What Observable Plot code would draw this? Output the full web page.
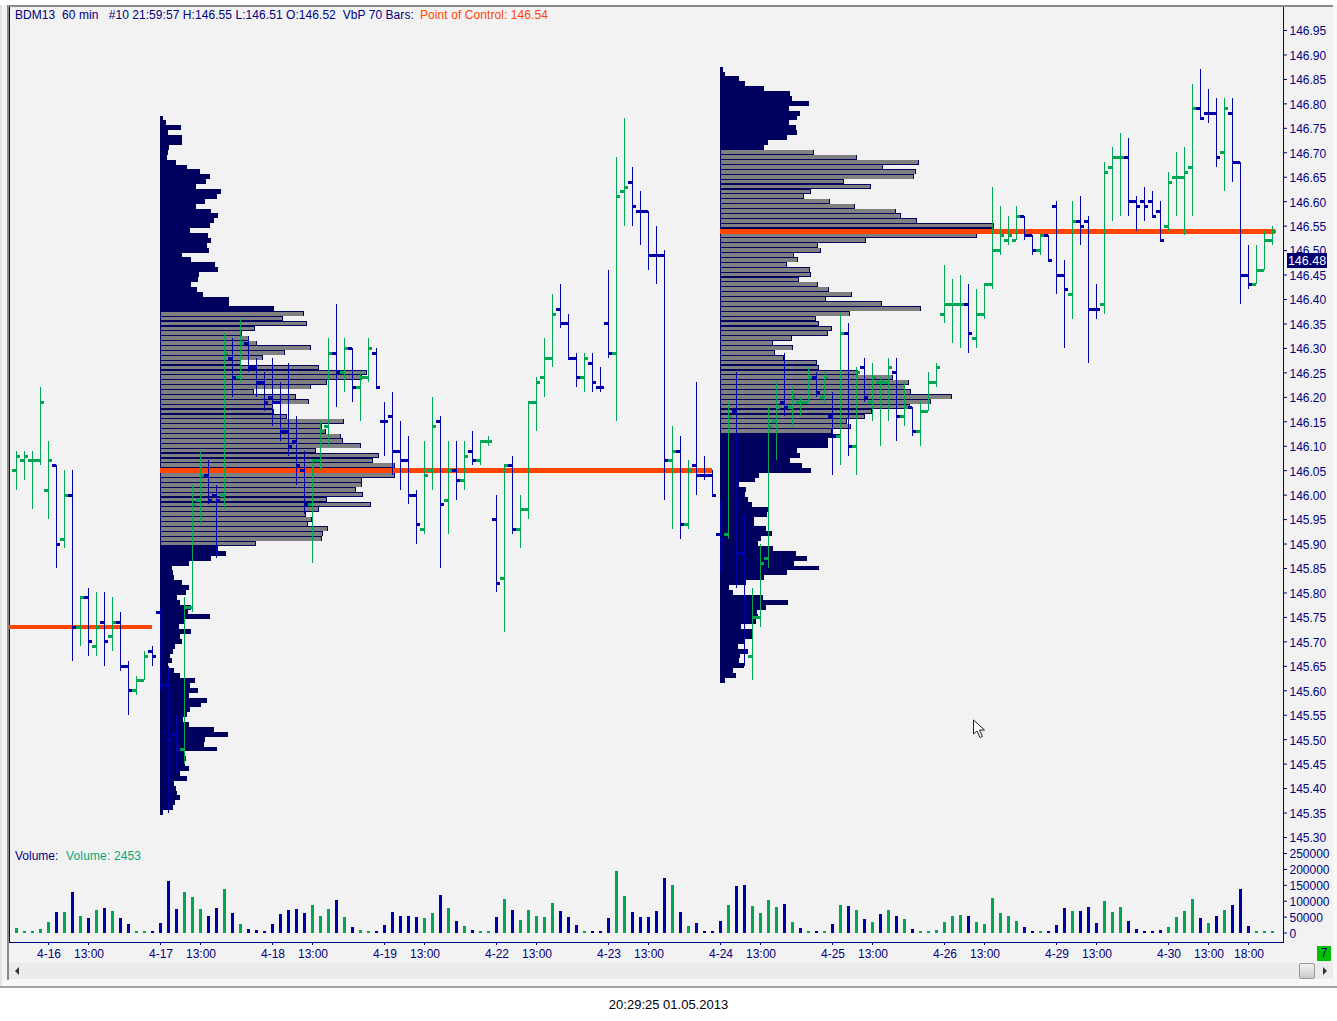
<!DOCTYPE html>
<html><head><meta charset="utf-8">
<script src="https://cdn.jsdelivr.net/npm/d3@7"></script>
<script src="https://cdn.jsdelivr.net/npm/@observablehq/plot@0.6"></script>
<style>
html,body{margin:0;padding:0;background:#fff;}
#page{position:relative;width:1337px;height:1021px;overflow:hidden;font:12px "Liberation Sans",Arial,sans-serif;}
#page>div,#page>svg{position:absolute;}
.lab{white-space:pre;line-height:14px;color:#000080;}
</style></head><body><div id="page">
<div style="left:0;top:5px;width:1337px;height:981px;background:#f2f2f2;border-bottom:2px solid #a3a3a3;"></div>
<div style="left:9px;top:963px;width:1324px;height:16px;background:#ebebeb;"></div>
<div style="left:0;top:979px;width:1337px;height:7px;background:#f8f8f8;"></div>
<div style="left:7px;top:5px;width:1330px;height:2px;background:#8a8a8a;"></div>
<div style="left:7px;top:5px;width:2px;height:975px;background:#8a8a8a;"></div>
<div style="left:0;top:5px;width:2px;height:981px;background:#e4e4e4;"></div>
<div style="left:1333px;top:5px;width:4px;height:981px;background:#f8f8f8;"></div>
<div id="price" style="left:0;top:0;"></div>
<div id="volume" style="left:0;top:845px;"></div>
<div class="lab" style="left:15px;top:8px;letter-spacing:0.06px;">BDM13  60 min   #10 21:59:57 H:146.55 L:146.51 O:146.52  VbP 70 Bars:</div>
<div class="lab" style="left:420px;top:8px;color:#ff4500;letter-spacing:0.08px;">Point of Control: 146.54</div>
<div class="lab" style="left:15px;top:849px;">Volume:</div>
<div class="lab" style="left:66px;top:849px;color:#00a878;letter-spacing:0.15px;">Volume: 2453</div>
<div class="lab" style="left:1287px;top:253px;width:40px;height:15px;background:#000070;color:#fff;text-align:center;line-height:16px;font-size:12.5px;">146.48</div>
<div class="lab" style="left:1317px;top:946px;width:14px;height:15px;background:#00c000;color:#000080;text-align:center;line-height:15px;">7</div>
<div style="left:1299px;top:963px;width:14px;height:14px;background:linear-gradient(#f4f4f4,#c8c8c8);border:1px solid #999;border-radius:2px;"></div>
<div style="left:15px;top:967px;width:0;height:0;border:4px solid transparent;border-left-width:0;border-right:4px solid #333;"></div>
<div style="left:1323px;top:967px;width:0;height:0;border:4px solid transparent;border-right-width:0;border-left:4px solid #333;"></div>
<svg style="left:972px;top:719px;" width="16" height="20" viewBox="0 0 16 20"><path d="M1.5 1 L1.5 15 L5 12 L8 18.5 L10.5 17.5 L7.5 11 L12.5 11 Z" fill="#fff" stroke="#222" stroke-width="1"/></svg>
<div class="lab" style="left:0;top:998px;width:1337px;text-align:center;color:#000;font-size:13px;">20:29:25 01.05.2013</div>
</div>
<script>
const opens=[146.05,146.07,146.07,146.07,146.01,146.06,145.91,146.00,145.73,145.79,145.69,145.74,145.71,145.74,145.65,145.60,145.62,145.68,145.76,145.61,145.51,145.48,145.77,145.99,146.04,146.00,146.00,146.28,146.24,146.31,146.26,146.23,146.20,146.19,146.13,146.11,146.05,145.98,146.07,146.14,146.29,146.25,146.30,146.22,146.24,146.29,146.15,146.16,146.09,146.07,146.00,145.93,146.05,146.15,145.99,146.05,146.03,146.09,146.07,146.11,145.95,145.83,146.06,145.93,145.97,146.19,146.24,146.28,146.38,146.35,146.28,146.24,146.27,146.22,146.35,146.29,146.62,146.64,146.58,146.58,146.49,146.49,146.07,146.09,145.94,146.06,146.04,146.04,145.92,145.92,146.17,145.88,145.67,145.75,145.87,146.15,146.19,146.18,146.19,146.19,146.24,146.20,146.16,146.12,146.33,146.10,146.26,146.19,146.23,146.23,146.25,146.16,146.18,146.13,146.17,146.23,146.37,146.39,146.39,146.39,146.32,146.37,146.43,146.50,146.52,146.52,146.57,146.53,146.50,146.53,146.59,146.45,146.41,146.56,146.56,146.38,146.39,146.67,146.69,146.69,146.60,146.60,146.60,146.58,146.55,146.65,146.65,146.67,146.79,146.78,146.78,146.70,146.78,146.68,146.45,146.43,146.46,146.52];
const highs=[146.09,146.09,146.09,146.22,146.11,146.06,146.05,146.05,145.79,145.81,145.80,145.80,145.79,145.76,145.66,145.63,145.68,145.69,145.77,145.65,145.55,145.79,146.02,146.09,146.07,146.02,146.33,146.32,146.36,146.32,146.28,146.25,146.28,146.23,146.27,146.16,146.09,146.07,146.15,146.32,146.39,146.32,146.30,146.25,146.32,146.30,146.19,146.21,146.15,146.12,146.01,146.11,146.20,146.16,146.11,146.11,146.11,146.13,146.11,146.12,146.00,146.06,146.08,146.00,146.19,146.24,146.32,146.41,146.43,146.37,146.29,146.29,146.29,146.26,146.46,146.69,146.77,146.67,146.62,146.58,146.55,146.50,146.14,146.12,146.07,146.23,146.08,146.05,145.99,146.19,146.25,145.96,145.81,145.90,146.18,146.23,146.29,146.22,146.20,146.26,146.25,146.25,146.21,146.37,146.35,146.26,146.28,146.27,146.24,146.28,146.28,146.23,146.18,146.19,146.25,146.27,146.47,146.44,146.45,146.43,146.42,146.43,146.63,146.59,146.57,146.59,146.57,146.53,146.53,146.53,146.60,146.48,146.60,146.61,146.57,146.43,146.68,146.71,146.74,146.73,146.61,146.63,146.62,146.60,146.66,146.70,146.71,146.84,146.87,146.83,146.81,146.81,146.81,146.68,146.51,146.51,146.54,146.55];
const lows=[146.01,146.03,145.97,146.06,145.95,145.85,145.89,145.66,145.69,145.67,145.67,145.65,145.68,145.64,145.55,145.59,145.62,145.65,145.60,145.35,145.43,145.45,145.76,145.94,145.98,145.87,145.97,146.20,146.23,146.25,146.20,146.17,146.14,146.11,146.08,146.02,145.96,145.86,146.05,146.10,146.18,146.21,146.19,146.15,146.23,146.22,146.08,146.04,146.01,145.98,145.90,145.92,146.01,145.85,145.92,145.99,146.01,146.06,146.06,146.10,145.80,145.72,145.92,145.89,145.95,146.13,146.20,146.26,146.34,146.28,146.22,146.21,146.21,146.21,146.28,146.15,146.55,146.55,146.51,146.46,146.43,145.99,145.93,145.91,145.93,146.00,146.03,146.00,145.84,145.91,145.81,145.65,145.62,145.73,145.85,146.07,146.16,146.14,146.16,146.19,146.20,146.19,146.04,146.06,146.08,146.04,146.19,146.15,146.10,146.15,146.11,146.14,146.12,146.10,146.17,146.22,146.35,146.31,146.30,146.29,146.30,146.36,146.42,146.49,146.51,146.52,146.52,146.49,146.49,146.48,146.41,146.30,146.36,146.51,146.27,146.36,146.37,146.56,146.57,146.57,146.54,146.56,146.57,146.52,146.54,146.57,146.53,146.57,146.77,146.76,146.67,146.62,146.64,146.39,146.42,146.43,146.46,146.51];
const closes=[146.08,146.08,146.07,146.19,146.07,145.90,146.00,145.73,145.79,145.70,145.73,145.70,145.74,145.65,145.60,145.62,145.67,145.67,145.61,145.50,145.48,145.77,145.98,146.04,145.99,145.99,146.29,146.24,146.31,146.26,146.23,146.19,146.19,146.13,146.10,146.06,145.98,146.07,146.13,146.29,146.25,146.30,146.22,146.24,146.30,146.22,146.15,146.09,146.07,146.00,145.94,146.04,146.14,145.98,146.05,146.03,146.08,146.07,146.11,146.11,145.82,146.06,145.93,145.97,146.19,146.23,146.28,146.37,146.35,146.28,146.24,146.28,146.23,146.22,146.29,146.61,146.63,146.59,146.58,146.49,146.49,146.07,146.09,145.94,146.05,146.04,146.04,146.00,145.91,146.16,145.88,145.68,145.75,145.86,146.14,146.18,146.18,146.20,146.19,146.24,146.21,146.24,146.12,146.33,146.10,146.25,146.20,146.24,146.23,146.26,146.16,146.18,146.13,146.17,146.23,146.26,146.39,146.39,146.39,146.33,146.37,146.43,146.50,146.53,146.53,146.57,146.53,146.50,146.53,146.48,146.45,146.42,146.56,146.55,146.38,146.38,146.66,146.69,146.69,146.60,146.59,146.59,146.57,146.52,146.64,146.65,146.66,146.79,146.77,146.78,146.69,146.79,146.68,146.45,146.43,146.46,146.52,146.54];
const upBars=[0,1,2,3,4,6,8,10,12,15,16,21,22,23,26,28,37,38,39,41,43,44,51,52,54,56,58,59,61,63,64,65,66,67,71,75,76,82,84,89,92,93,94,95,97,98,99,101,103,105,107,108,109,111,113,114,115,116,117,118,120,121,122,123,124,125,128,132,136,137,138,144,145,146,147,151,155,156,157];
const volumes=[14600,6250,6250,12500,34375,65625,65625,128125,53125,46875,71875,78125,68750,46875,28125,6250,6250,6250,31250,162500,75000,128125,112500,75000,53125,78125,137500,62500,28125,12500,9375,6250,28125,59375,71875,75000,62500,87500,53125,75000,103125,50000,18750,9375,6250,6250,25000,65625,53125,53125,50000,46875,62500,118750,78125,37500,21875,9375,6250,6250,50000,106250,71875,40625,71875,53125,50000,93750,68750,50000,25000,6250,6250,6250,46875,193750,115625,65625,50000,50000,68750,171875,150000,65625,21875,31250,6250,6250,37500,87500,146875,150000,84375,62500,103125,81250,90625,34375,15625,6250,6250,6250,28125,87500,84375,71875,43750,34375,59375,71875,53125,43750,12500,6250,6250,9375,34375,53125,56250,53125,34375,28125,109375,62500,53125,37500,18750,6250,6250,6250,25000,78125,68750,68750,81250,31250,100000,65625,81250,37500,12500,6250,6250,9375,18750,50000,68750,106250,46875,31250,53125,71875,87500,137500,21875,6250,6250,6250];
const volUpOverrides=[149];
const volDownOverrides=[98,108];
// volume-at-price profiles: first row price, then lengths per 0.01 row, top to bottom
const profileATop=146.77;
const profileAVolume=[3,6,21,8,22,22,9,8,7,16,27,40,50,46,36,61,57,45,36,51,58,54,50,30,48,51,47,49,22,31,55,58,39,38,31,37,43,69,69,114,144,123,147,95,82,89,97,151,125,103,81,159,207,202,167,151,94,136,149,113,114,127,184,162,166,181,183,201,156,219,213,235,236,235,202,202,196,203,167,211,159,146,152,148,168,163,162,96,58,66,51,29,12,13,14,22,29,26,17,20,31,28,50,24,19,31,20,22,15,13,10,12,8,14,20,35,30,38,29,47,41,30,27,23,29,54,68,45,44,57,24,26,25,29,20,27,14,16,17,20,15,13,3];
const profileAArea=[146.37,145.90];
const profileBTop=146.87;
const profileBVolume=[3,5,19,25,44,70,72,89,69,80,77,69,76,77,67,48,44,94,137,199,163,196,194,124,151,91,84,110,135,176,181,197,274,274,257,146,98,101,74,78,67,90,91,79,98,109,132,106,162,201,130,96,99,112,108,72,53,73,55,64,97,99,138,173,189,185,191,232,211,190,152,145,127,131,112,120,108,108,77,80,70,82,91,39,35,19,26,25,28,32,48,47,34,34,46,52,41,38,53,76,87,74,99,67,44,26,9,13,43,68,46,37,38,36,21,32,32,25,18,28,20,19,24,13,16,5];
const profileBArea=[146.70,146.13];
const pocFirst=[{price:145.73,from:-0.875,to:17}];
const pocOthers=[{price:146.05,from:17.94,to:87},{price:146.54,from:87.94,to:157.4}];
const priceTicks=[146.95,146.90,146.85,146.80,146.75,146.70,146.65,146.60,146.55,146.50,146.45,146.40,146.35,146.30,146.25,146.20,146.15,146.10,146.05,146.00,145.95,145.90,145.85,145.80,145.75,145.70,145.65,145.60,145.55,145.50,145.45,145.40,145.35,145.30];
const volumeTicks=[0,50000,100000,150000,200000,250000];
const timeTickIndex=[4,9,18,23,32,37,46,51,60,65,74,79,88,93,102,107,116,121,130,135,144,149,154];
const timeTickLabels=["4-16","13:00","4-17","13:00","4-18","13:00","4-19","13:00","4-22","13:00","4-23","13:00","4-24","13:00","4-25","13:00","4-26","13:00","4-29","13:00","4-30","13:00","18:00"];

const GREEN="#00a651",BLUE="#0000a8",NAVY="#00005f",GREY="#808080",ORANGE="#ff4500",AXIS="#000080";
const upSet=new Set(upBars);
const bars=opens.map((o,i)=>({i,o,h:highs[i],l:lows[i],c:closes[i],col:upSet.has(i)?GREEN:BLUE}));
const volBars=volumes.map((v,i)=>({i,v,col:(volUpOverrides.includes(i)||(upSet.has(i)&&!volDownOverrides.includes(i)))?GREEN:BLUE}));
const rows=(top,vals,area,start)=>vals.map((v,k)=>{const p=Math.round((top-k*0.01)*100)/100;
  return {p,x1:start,x2:start+v/8,inArea:p<=area[0]&&p>=area[1]};});
const prof=[...rows(profileATop,profileAVolume,profileAArea,17.94),...rows(profileBTop,profileBVolume,profileBArea,87.94)];
const xScale={type:"linear",domain:[-0.875,158.375],range:[9,1283]};
const base={fontFamily:"'Liberation Sans',Arial,sans-serif",fontSize:"12px",background:"transparent",overflow:"visible"};
const rowBox={x1:"x1",x2:"x2",y1:d=>d.p+0.005,y2:d=>d.p-0.005,shapeRendering:"crispEdges"};

const price=Plot.plot({
  width:1337,height:845,marginLeft:9,marginRight:54,marginTop:7,marginBottom:0,style:base,
  x:{...xScale,axis:null},
  y:{type:"linear",domain:[145.30,146.95],range:[837,30],axis:null},
  marks:[
    Plot.frame({anchor:"left",stroke:AXIS,strokeWidth:1}),
    Plot.frame({anchor:"right",stroke:AXIS,strokeWidth:1}),
    Plot.axisY({anchor:"right",ticks:priceTicks,tickSize:3,text:null,color:AXIS,label:null}),
    Plot.axisY({anchor:"right",ticks:priceTicks,tickFormat:d3.format(".2f"),tickSize:0,tickPadding:6,dy:1,color:AXIS,label:null}),
    Plot.rect(prof,{...rowBox,fill:NAVY}),
    Plot.rect(prof.filter(d=>d.inArea),{...rowBox,fill:GREY,insetLeft:1,insetRight:1,insetTop:0.6,insetBottom:0.6}),
    Plot.ruleY(pocFirst,{y:"price",x1:"from",x2:"to",stroke:ORANGE,strokeWidth:4,shapeRendering:"crispEdges"}),
    Plot.ruleY(pocOthers,{y:"price",x1:"from",x2:"to",stroke:ORANGE,strokeWidth:5,shapeRendering:"crispEdges"}),
    Plot.ruleX(bars,{x:"i",y1:"l",y2:"h",stroke:"col",strokeWidth:1,shapeRendering:"crispEdges"}),
    Plot.ruleY(bars,{y:"o",x1:d=>d.i-0.44,x2:"i",stroke:"col",strokeWidth:3,shapeRendering:"crispEdges"}),
    Plot.ruleY(bars,{y:"c",x1:"i",x2:d=>d.i+0.5,stroke:"col",strokeWidth:3,shapeRendering:"crispEdges"})
  ]
});
document.getElementById("price").append(price);

const volume=Plot.plot({
  width:1337,height:120,marginLeft:9,marginRight:54,marginTop:0,marginBottom:23,style:base,
  x:{...xScale,axis:null},
  y:{type:"linear",domain:[0,250000],range:[87.5,8],axis:null},
  marks:[
    Plot.frame({anchor:"left",stroke:AXIS,strokeWidth:1}),
    Plot.frame({anchor:"right",stroke:AXIS,strokeWidth:1}),
    Plot.frame({anchor:"bottom",stroke:AXIS,strokeWidth:1}),
    Plot.axisY({anchor:"right",ticks:volumeTicks,tickSize:3,text:null,color:AXIS,label:null}),
    Plot.axisY({anchor:"right",ticks:volumeTicks,tickFormat:d3.format("d"),tickSize:0,tickPadding:6,dy:1,color:AXIS,label:null}),
    Plot.axisX({anchor:"bottom",ticks:timeTickIndex,tickSize:3,text:null,color:AXIS,label:null}),
    Plot.axisX({anchor:"bottom",ticks:timeTickIndex,tickFormat:d=>timeTickLabels[timeTickIndex.indexOf(d)],tickSize:0,tickPadding:6,dy:1,dx:0.5,color:AXIS,label:null}),
    Plot.ruleX(volBars,{x:"i",y1:0,y2:"v",stroke:"col",strokeWidth:3,shapeRendering:"crispEdges"})
  ]
});
document.getElementById("volume").append(volume);
</script>
</body></html>
